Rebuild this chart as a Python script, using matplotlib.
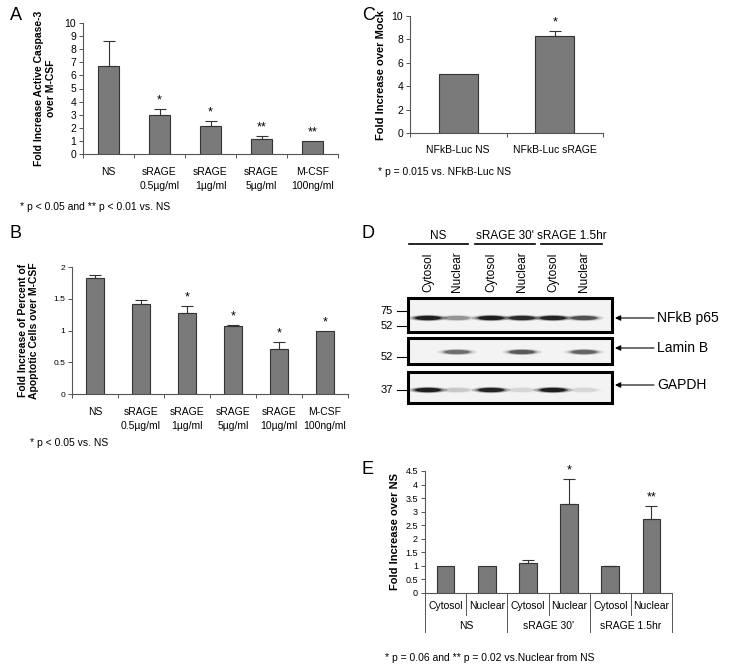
import matplotlib
matplotlib.use("Agg")
import matplotlib.pyplot as plt
from matplotlib.patches import Rectangle, Ellipse

plt.rcParams["font.family"] = ["Liberation Sans", "DejaVu Sans"]

W, H = 729, 671

# ---- data ----
a_labels = ["NS", "sRAGE\n0.5\u00b5g/ml", "sRAGE\n1\u00b5g/ml", "sRAGE\n5\u00b5g/ml", "M-CSF\n100ng/ml"]
a_values = [6.75, 2.95, 2.15, 1.15, 1.0]
a_errors = [1.85, 0.5, 0.4, 0.25, 0.0]
a_stars = ["", "*", "*", "**", "**"]

b_labels = ["NS", "sRAGE\n0.5\u00b5g/ml", "sRAGE\n1\u00b5g/ml", "sRAGE\n5\u00b5g/ml", "sRAGE\n10\u00b5g/ml", "M-CSF\n100ng/ml"]
b_values = [1.83, 1.42, 1.28, 1.07, 0.71, 1.0]
b_errors = [0.04, 0.06, 0.11, 0.01, 0.11, 0.0]
b_stars = ["", "", "*", "*", "*", "*"]

c_labels = ["NFkB-Luc NS", "NFkB-Luc sRAGE"]
c_values = [5.05, 8.3]
c_errors = [0.0, 0.45]
c_stars = ["", "*"]

e_labels = ["Cytosol", "Nuclear", "Cytosol", "Nuclear", "Cytosol", "Nuclear"]
e_groups = ["NS", "sRAGE 30'", "sRAGE 1.5hr"]
e_values = [1.0, 1.0, 1.12, 3.28, 0.98, 2.72]
e_errors = [0.0, 0.0, 0.08, 0.92, 0.02, 0.5]
e_stars = ["", "", "", "*", "", "**"]

blot_groups = ["NS", "sRAGE 30'", "sRAGE 1.5hr"]
blot_lanes = ["Cytosol", "Nuclear", "Cytosol", "Nuclear", "Cytosol", "Nuclear"]
blot_proteins = ["NFkB p65", "Lamin B", "GAPDH"]
p65_band = [0.95, 0.3, 0.95, 0.85, 0.9, 0.6]
lamin_band = [0.0, 0.45, 0.0, 0.55, 0.0, 0.5]
gapdh_band = [0.95, 0.12, 0.9, 0.08, 0.95, 0.08]

BAR = "#7a7a7a"
EDGE = "#333333"


def rect(x0, y0, x1, y1):
    return [x0 / W, 1 - y1 / H, (x1 - x0) / W, (y1 - y0) / H]


def bar_panel(ax, labels, values, errors, stars, width, ymax, step, tick_fs, lab_fs):
    x = range(len(values))
    ax.bar(x, values, width=width, color=BAR, edgecolor=EDGE, linewidth=0.8, zorder=2)
    for i, (v, e) in enumerate(zip(values, errors)):
        if e > 0:
            ax.errorbar(i, v, yerr=[[0], [e]], color=EDGE, capsize=4, elinewidth=0.8,
                        capthick=0.8, zorder=3)
        if stars[i]:
            ax.text(i, v + e + ymax * 0.02, stars[i], ha="center", va="bottom", fontsize=9)
    ax.set_xlim(-0.5, len(values) - 0.5)
    ax.set_ylim(0, ymax)
    ticks = [k * step for k in range(int(round(ymax / step)) + 1)]
    ax.set_yticks(ticks)
    ax.set_yticklabels([("%g" % t) for t in ticks], fontsize=tick_fs)
    ax.set_xticks([i - 0.5 for i in range(len(values) + 1)])
    ax.set_xticklabels([])
    ax.tick_params(axis="x", length=3, width=0.7, color="#555555")
    ax.tick_params(axis="y", length=3, width=0.7, color="#555555", pad=2)
    for i, lab in enumerate(labels):
        ax.text(i, -ymax * 0.1, lab, ha="center", va="top", fontsize=lab_fs,
                linespacing=1.5)
    for s in ["top", "right"]:
        ax.spines[s].set_visible(False)
    for s in ["left", "bottom"]:
        ax.spines[s].set_color("#555555")
        ax.spines[s].set_linewidth(0.8)


fig = plt.figure(figsize=(W / 100, H / 100), dpi=100)

# overlay for letters, footnotes and blot
ov = fig.add_axes([0, 0, 1, 1])
ov.set_xlim(0, W)
ov.set_ylim(H, 0)
ov.axis("off")

# ---- panel A ----
axA = fig.add_axes(rect(83, 23, 338, 154))
bar_panel(axA, a_labels, a_values, a_errors, a_stars, 0.43, 10, 1, 7.5, 7.5)
axA.set_ylabel("Fold Increase Active Caspase-3\nover M-CSF", fontsize=7.5, fontweight="bold",
               labelpad=6)
ov.text(10, 15, "A", fontsize=13, va="center", ha="left")
ov.text(20, 207, "* p < 0.05 and ** p < 0.01 vs. NS", fontsize=7.5, va="center")

# ---- panel B ----
axB = fig.add_axes(rect(72, 267, 348, 394))
bar_panel(axB, b_labels, b_values, b_errors, b_stars, 0.4, 2, 0.5, 6, 7.5)
axB.set_ylabel("Fold Increase of Percent of\nApoptotic Cells over M-CSF", fontsize=7.5,
               fontweight="bold", labelpad=10)
ov.text(10, 233, "B", fontsize=13, va="center", ha="left")
ov.text(30, 443, "* p < 0.05 vs. NS", fontsize=7.5, va="center")

# ---- panel C ----
axC = fig.add_axes(rect(410, 16, 603, 133))
bar_panel(axC, c_labels, c_values, c_errors, c_stars, 0.4, 10, 2, 7.5, 7.5)
axC.set_ylabel("Fold Increase over Mock", fontsize=8, fontweight="bold", labelpad=4)
ov.text(362, 15, "C", fontsize=13, va="center", ha="left")
ov.text(378, 172, "* p = 0.015 vs. NFkB-Luc NS", fontsize=7.5, va="center")

# ---- panel D (blot) ----
ov.text(362, 233, "D", fontsize=13, va="center", ha="left")
lane_x = [428, 457, 491, 522, 553, 584]
group_spans = [(409, 468), (475, 535), (541, 602)]
for g, (g0, g1) in zip(blot_groups, group_spans):
    ov.text((g0 + g1) / 2, 236, g, ha="center", va="center", fontsize=8.5)
    ov.plot([g0, g1], [244, 244], color="black", lw=1.2)
for lx, lane in zip(lane_x, blot_lanes):
    ov.text(lx, 292, lane, rotation=90, ha="center", va="bottom", fontsize=8.5)

boxes = [(298, 332), (338, 364), (372, 403)]
band_y = [318, 352, 390]
bands = [p65_band, lamin_band, gapdh_band]
markers = [[("75", 311), ("52", 326)], [("52", 357)], [("37", 390)]]
label_y = [318, 348, 385]
for (y0, y1), by, band, mk, prot, ly in zip(boxes, band_y, bands, markers, blot_proteins, label_y):
    ov.add_patch(Rectangle((408, y0), 204, y1 - y0, facecolor="#f3f3f3",
                           edgecolor="black", lw=2.2, zorder=2))
    for lx, b in zip(lane_x, band):
        if b <= 0:
            continue
        for k, a in [(1.5, 0.25), (1.2, 0.45), (1.0, 0.9)]:
            ov.add_patch(Ellipse((lx, by), 26 * k, 4.2 * k, facecolor="#111111",
                                 edgecolor="none", alpha=a * b, zorder=3))
    for txt, my in mk:
        ov.text(393, my, txt, ha="right", va="center", fontsize=8)
        ov.plot([397, 407], [my, my], color="black", lw=0.8)
    ov.annotate("", xy=(615, ly), xytext=(654, ly),
                arrowprops=dict(arrowstyle="-|>", color="black", lw=0.8,
                                mutation_scale=8, shrinkA=0, shrinkB=0))
    ov.text(657, ly, prot, ha="left", va="center", fontsize=10)

# ---- panel E ----
axE = fig.add_axes(rect(425, 471, 672, 593))
bar_panel(axE, [""] * 6, e_values, e_errors, e_stars, 0.43, 4.5, 0.5, 6.5, 7.5)
axE.set_xticks([])
axE.set_ylabel("Fold Increase over NS", fontsize=8, fontweight="bold", labelpad=4)
for i, lab in enumerate(e_labels):
    axE.text(i, -0.48, lab, ha="center", va="center", fontsize=7.5)
for j, g in enumerate(e_groups):
    axE.text(2 * j + 0.5, -1.22, g, ha="center", va="center", fontsize=7.5)
for k in range(7):
    ylow = -1.44 if k % 2 == 0 else -0.81
    axE.plot([k - 0.5, k - 0.5], [0, ylow], color="#555555", lw=0.7, clip_on=False)
ov.text(362, 470, "E", fontsize=13, va="center", ha="left")
ov.text(385, 658, "* p = 0.06 and ** p = 0.02 vs.Nuclear from NS", fontsize=7.5, va="center")

fig.savefig("out.png", dpi=100)
